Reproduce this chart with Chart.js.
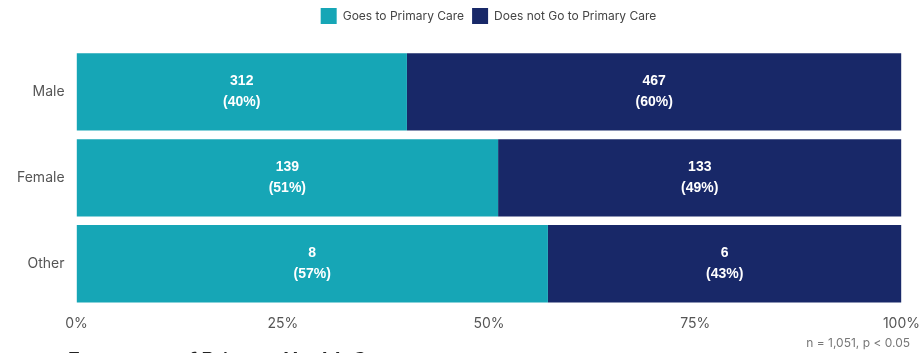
<!DOCTYPE html>
<html>
<head>
<meta charset="utf-8">
<script src="https://cdn.jsdelivr.net/npm/chart.js@4.4.1/dist/chart.umd.min.js"></script>
<style>
  html, body { margin: 0; padding: 0; background: #fff; }
  #wrap { width: 921px; height: 353px; position: relative; }
</style>
</head>
<body>
<div id="wrap"><canvas id="chart"></canvas></div>
<script>
const categories = ["Male", "Female", "Other"];
const goesCounts = [312, 139, 8];
const notGoCounts = [467, 133, 6];
const seriesNames = ["Goes to Primary Care", "Does not Go to Primary Care"];
const tickLabels = ["0%", "25%", "50%", "75%", "100%"];
const footNote = "n = 1,051, p < 0.05";
const bottomTitle = "Frequency of Primary Health Care";

const totals = goesCounts.map((g, i) => g + notGoCounts[i]);
const goesPct = goesCounts.map((g, i) => g / totals[i] * 100);
const notGoPct = notGoCounts.map((n, i) => n / totals[i] * 100);

// white count + (pct) labels in the middle of each bar segment
const barLabels = {
  id: "barLabels",
  afterDatasetsDraw(chart) {
    const ctx = chart.ctx;
    ctx.save();
    ctx.fillStyle = "#ffffff";
    ctx.font = "bold 14px 'Liberation Sans', Arial, sans-serif";
    ctx.textAlign = "center";
    ctx.textBaseline = "middle";
    const counts = [goesCounts, notGoCounts];
    const pcts = [goesPct, notGoPct];
    chart.data.datasets.forEach((ds, di) => {
      chart.getDatasetMeta(di).data.forEach((bar, i) => {
        const x = (bar.x + bar.base) / 2;
        ctx.fillText(String(counts[di][i]), x, bar.y - 10.5);
        ctx.fillText("(" + Math.round(pcts[di][i]) + "%)", x, bar.y + 10.5);
      });
    });
    ctx.restore();
  }
};

// legend sits higher and is centred over the plot, not the canvas
const legendTweak = {
  id: "legendTweak",
  beforeInit(chart) {
    const fit = chart.legend.fit;
    chart.legend.fit = function () {
      fit.call(this);
      this.height = 49;
    };
  },
  afterLayout(chart) {
    const lg = chart.legend;
    const shift = (chart.chartArea.left + chart.chartArea.right) / 2 - chart.width / 2;
    lg.left += shift;
    lg.right += shift;
  }
};

const notes = {
  id: "notes",
  afterDraw(chart) {
    const ctx = chart.ctx;
    ctx.save();
    ctx.fillStyle = "#777";
    ctx.font = "12px Inter, 'Open Sans', sans-serif";
    ctx.textAlign = "right";
    ctx.textBaseline = "middle";
    ctx.fillText(footNote, 910, 343);
    ctx.fillStyle = "#222";
    ctx.font = "bold 20px Inter, 'Open Sans', sans-serif";
    ctx.textAlign = "left";
    ctx.textBaseline = "top";
    ctx.fillText(bottomTitle, 68, 351);
    ctx.restore();
  }
};

new Chart(document.getElementById("chart"), {
  type: "bar",
  data: {
    labels: categories,
    datasets: [
      { label: seriesNames[0], data: goesPct, backgroundColor: "#16a6b6" },
      { label: seriesNames[1], data: notGoPct, backgroundColor: "#182868" }
    ]
  },
  options: {
    indexAxis: "y",
    responsive: true,
    maintainAspectRatio: false,
    animation: false,
    layout: { padding: { top: 0, right: 14, bottom: 19.5, left: 13 } },
    datasets: { bar: { barPercentage: 0.9, categoryPercentage: 1.0 } },
    scales: {
      x: {
        stacked: true,
        min: 0,
        max: 100,
        grid: { display: false },
        border: { display: false },
        ticks: {
          stepSize: 25,
          padding: 1,
          color: "#555",
          font: { size: 14, family: "Inter, 'Open Sans', sans-serif" },
          callback: (v, i) => tickLabels[i]
        }
      },
      y: {
        stacked: true,
        grid: { display: false },
        border: { display: false },
        ticks: {
          padding: 4,
          color: "#555",
          font: { size: 14, family: "Inter, 'Open Sans', sans-serif" }
        }
      }
    },
    plugins: {
      legend: {
        position: "top",
        labels: {
          boxWidth: 16,
          boxHeight: 16,
          padding: 8,
          color: "#444",
          font: { size: 12, family: "Inter, 'Open Sans', sans-serif" }
        }
      },
      tooltip: { enabled: false }
    }
  },
  plugins: [barLabels, legendTweak, notes]
});
</script>
</body>
</html>
